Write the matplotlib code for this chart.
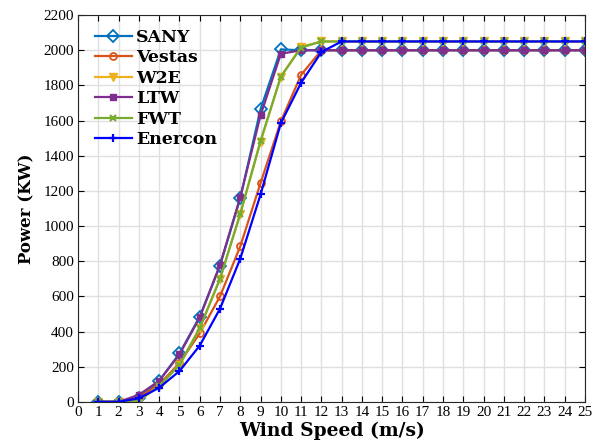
import numpy as np
import matplotlib
matplotlib.use('Agg')
import matplotlib.pyplot as plt

# wind speed (m/s)
speed = np.arange(1, 26)

# power curves (KW)
sany = [0, 0, 20, 120, 275, 485, 775, 1160, 1665, 2005, 2000, 2000, 2000,
        2000, 2000, 2000, 2000, 2000, 2000, 2000, 2000, 2000, 2000, 2000, 2000]
vestas = [0, 0, 25, 100, 220, 390, 600, 885, 1245, 1595, 1860, 2000, 2000,
          2000, 2000, 2000, 2000, 2000, 2000, 2000, 2000, 2000, 2000, 2000, 2000]
w2e = [0, 0, 5, 90, 210, 420, 700, 1070, 1480, 1850, 2020, 2050, 2050,
       2050, 2050, 2050, 2050, 2050, 2050, 2050, 2050, 2050, 2050, 2050, 2050]
ltw = [0, 0, 40, 120, 270, 480, 780, 1165, 1630, 1980, 2000, 2000, 2000,
       2000, 2000, 2000, 2000, 2000, 2000, 2000, 2000, 2000, 2000, 2000, 2000]
fwt = [0, 0, 10, 90, 210, 420, 700, 1070, 1485, 1850, 2015, 2050, 2050,
       2050, 2050, 2050, 2050, 2050, 2050, 2050, 2050, 2050, 2050, 2050, 2050]
enercon = [0, 0, 20, 80, 175, 320, 530, 815, 1180, 1585, 1815, 1990, 2050,
           2050, 2050, 2050, 2050, 2050, 2050, 2050, 2050, 2050, 2050, 2050, 2050]

plt.rcParams['font.family'] = ['Liberation Serif']

fig = plt.figure(figsize=(5.92, 4.44), dpi=100)
ax = fig.add_axes([0.132, 0.095, 0.856, 0.871])

lw = 1.6
ax.plot(speed, sany, color='#0072BD', lw=lw, marker='D', mfc='none', mew=1.3, ms=6, label='SANY')
ax.plot(speed, vestas, color='#D95319', lw=lw, marker='o', mfc='none', mew=1.3, ms=5, label='Vestas')
ax.plot(speed, w2e, color='#EDB120', lw=lw, marker='v', ms=6, label='W2E')
ax.plot(speed, ltw, color='#7E2F8E', lw=lw, marker='s', ms=5, label='LTW')
ax.plot(speed, fwt, color='#77AC30', lw=lw, marker='x', mew=1.6, ms=5, label='FWT')
ax.plot(speed, enercon, color='#0000FF', lw=lw, marker='+', mew=1.6, ms=6, label='Enercon')

ax.set_xlim(0, 25)
ax.set_ylim(0, 2200)
ax.set_xticks(np.arange(0, 26))
ax.set_yticks(np.arange(0, 2201, 200))
ax.tick_params(direction='in', top=True, right=True, labelsize=11, pad=3, length=4)
ax.grid(True, color='#e0e0e0', lw=1)
ax.set_axisbelow(True)
for s in ax.spines.values():
    s.set_color('#262626')

ax.set_xlabel('Wind Speed (m/s)', fontsize=13.5, fontweight='bold', family='DejaVu Serif', labelpad=2)
ax.set_ylabel('Power (KW)', fontsize=12, fontweight='bold', family='DejaVu Serif', labelpad=6)

ax.legend(loc='upper left', bbox_to_anchor=(0.006, 1.0), frameon=False,
          prop={'weight': 'bold', 'size': 12.5, 'family': 'DejaVu Serif'},
          handlelength=2.1, borderaxespad=0.4, labelspacing=0.2, handletextpad=0.25)

plt.savefig('out.png', dpi=100)
